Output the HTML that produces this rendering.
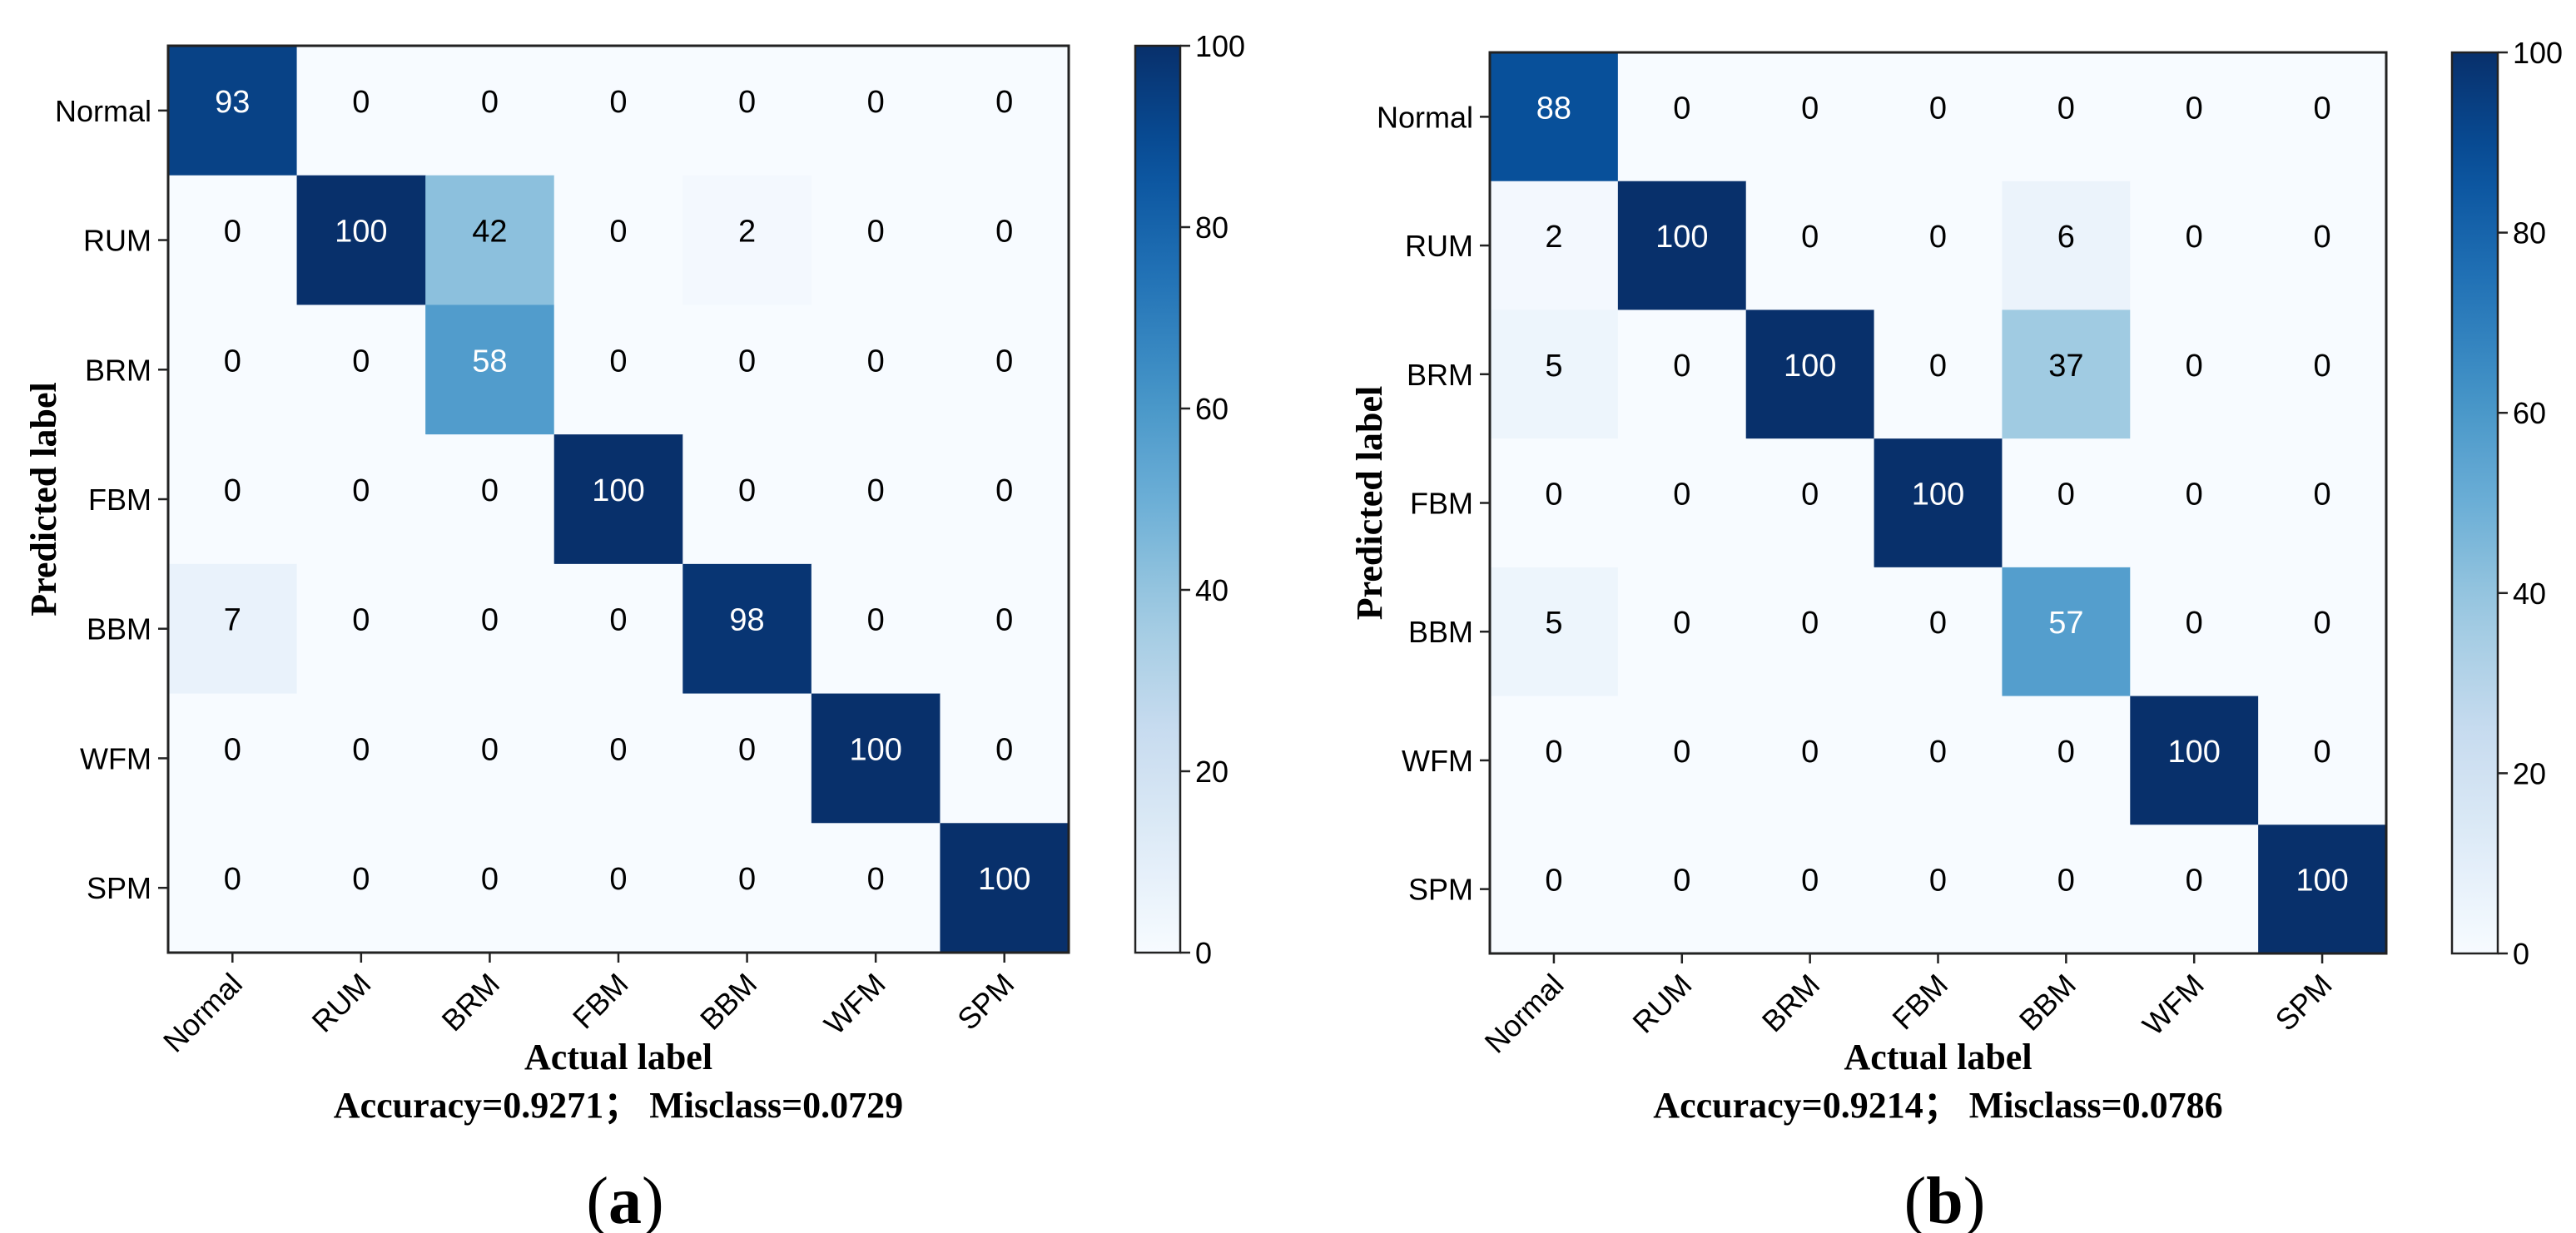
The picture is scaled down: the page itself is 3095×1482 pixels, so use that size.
<!DOCTYPE html>
<html><head><meta charset="utf-8"><style>
html,body{margin:0;padding:0;background:#fff;}
svg{display:block;}
.num{font-family:"Liberation Sans","WenQuanYi Zen Hei",sans-serif;font-size:38px;}
.tick{font-family:"Liberation Sans","WenQuanYi Zen Hei",sans-serif;font-size:36px;fill:#000;}
.ttl{font-family:"Liberation Serif",serif;font-weight:bold;font-size:44px;fill:#000;}
</style></head><body>
<svg id="fig" width="3095" height="1482" viewBox="0 0 3095 1482" xmlns="http://www.w3.org/2000/svg">
<defs></defs>
</svg>
<script>
const labels = ["Normal","RUM","BRM","FBM","BBM","WFM","SPM"];
const matrixA = [
 [93,0,0,0,0,0,0],
 [0,100,42,0,2,0,0],
 [0,0,58,0,0,0,0],
 [0,0,0,100,0,0,0],
 [7,0,0,0,98,0,0],
 [0,0,0,0,0,100,0],
 [0,0,0,0,0,0,100]];
const matrixB = [
 [88,0,0,0,0,0,0],
 [2,100,0,0,6,0,0],
 [5,0,100,0,37,0,0],
 [0,0,0,100,0,0,0],
 [5,0,0,0,57,0,0],
 [0,0,0,0,0,100,0],
 [0,0,0,0,0,0,100]];
const cbTicks = [0,20,40,60,80,100];
const captionA = "Accuracy=0.9271\uFF1B  Misclass=0.0729";
const captionB = "Accuracy=0.9214\uFF1B  Misclass=0.0786";

const NS="http://www.w3.org/2000/svg";
const svg=document.getElementById('fig');
const blues=["#f7fbff","#deebf7","#c6dbef","#9ecae1","#6baed6","#4292c6","#2171b5","#08519c","#08306b"];
function hex(h){return [1,3,5].map(i=>parseInt(h.substr(i,2),16));}
function color(v){
  let t=Math.max(0,Math.min(1,v/100))*(blues.length-1);
  let i=Math.min(Math.floor(t),blues.length-2), f=t-i;
  let a=hex(blues[i]), b=hex(blues[i+1]);
  return "rgb("+a.map((x,k)=>Math.round(x+(b[k]-x)*f)).join(",")+")";
}
function el(tag,attrs,parent){const e=document.createElementNS(NS,tag);for(const k in attrs)e.setAttribute(k,attrs[k]);(parent||svg).appendChild(e);return e;}

function panel(id,m,ax,cb,cap,letter){
  const g=el('g',{});
  
  
  const n=labels.length, cw=(ax.x1-ax.x0)/n, ch=(ax.y1-ax.y0)/n;
  const xs=i=>ax.x0+i*cw, ys=j=>ax.y0+j*ch;
  for(let r=0;r<n;r++)for(let c=0;c<n;c++){
    const v=m[r][c];
    const rc=el('rect',{x:xs(c),y:ys(r),width:cw+0.6,height:ch+0.6,fill:color(v)},g);
    
    
    const t=el('text',{x:xs(c)+cw/2,y:ys(r)+ch/2+2,'text-anchor':'middle',class:'num',fill:v>50?'#fff':'#000'},g);
    t.textContent=v;
    
    
  }
  el('rect',{x:ax.x0,y:ax.y0,width:ax.x1-ax.x0,height:ax.y1-ax.y0,fill:'none',stroke:'#222','stroke-width':3},g);
  for(let i=0;i<n;i++){
    const cy=ys(i)+ch/2;
    el('line',{x1:ax.x0-12,x2:ax.x0,y1:cy,y2:cy,stroke:'#222','stroke-width':2.5},g);
    const t=el('text',{x:ax.x0-20,y:cy+13,'text-anchor':'end',class:'tick'},g);
    t.textContent=labels[i];
    
    
    const cx=xs(i)+cw/2;
    el('line',{x1:cx,x2:cx,y1:ax.y1,y2:ax.y1+12,stroke:'#222','stroke-width':2.5},g);
    const tx=el('text',{x:cx+14,y:ax.y1+40,'text-anchor':'end',class:'tick',transform:'rotate(-45 '+(cx+14)+' '+(ax.y1+40)+')'},g);
    tx.textContent=labels[i];
    
    
  }
  const yl=el('text',{x:ax.ylx,y:(ax.y0+ax.y1)/2,'text-anchor':'middle',class:'ttl',transform:'rotate(-90 '+ax.ylx+' '+((ax.y0+ax.y1)/2)+')'},g);
  yl.textContent="Predicted label";
  
  
  const mid=(ax.x0+ax.x1)/2;
  const xl=el('text',{x:mid,y:1285,'text-anchor':'middle',class:'ttl'},g);
  xl.textContent="Actual label";
  
  
  const cp=el('text',{x:mid,y:1343,'text-anchor':'middle',class:'ttl'},g);
  cp.textContent=cap;
  
  
  const lt=el('text',{x:mid+8,y:1470,'text-anchor':'middle','font-family':'Liberation Serif, serif','font-size':'80px'},g);
  lt.innerHTML='(<tspan font-weight="bold">'+letter+'</tspan>)';
  
  
  // colorbar
  const gid='grad'+id;
  const defs=svg.querySelector('defs');
  const lg=el('linearGradient',{id:gid,x1:0,y1:1,x2:0,y2:0},defs);
  for(let k=0;k<=20;k++){el('stop',{offset:(k/20),'stop-color':color(k*5)},lg);}
  const cbr=el('rect',{x:cb.x0,y:ax.y0,width:cb.x1-cb.x0,height:ax.y1-ax.y0,fill:'url(#'+gid+')',stroke:'#222','stroke-width':2.5},g);
  
  
  const cs=v=>ax.y1-(v/100)*(ax.y1-ax.y0);
  cbTicks.forEach(v=>{
    el('line',{x1:cb.x1,x2:cb.x1+12,y1:cs(v),y2:cs(v),stroke:'#222','stroke-width':2.5},g);
    const t=el('text',{x:cb.x1+18,y:cs(v)+13,class:'tick'},g);
    t.textContent=v;
    
    
  });
}
panel('a',matrixA,{x0:202,x1:1284,y0:55,y1:1145,ylx:67},{x0:1364,x1:1418},captionA,'a');
panel('b',matrixB,{x0:1790,x1:2867,y0:63,y1:1146,ylx:1660},{x0:2946,x1:3001},captionB,'b');
</script>
</body></html>
